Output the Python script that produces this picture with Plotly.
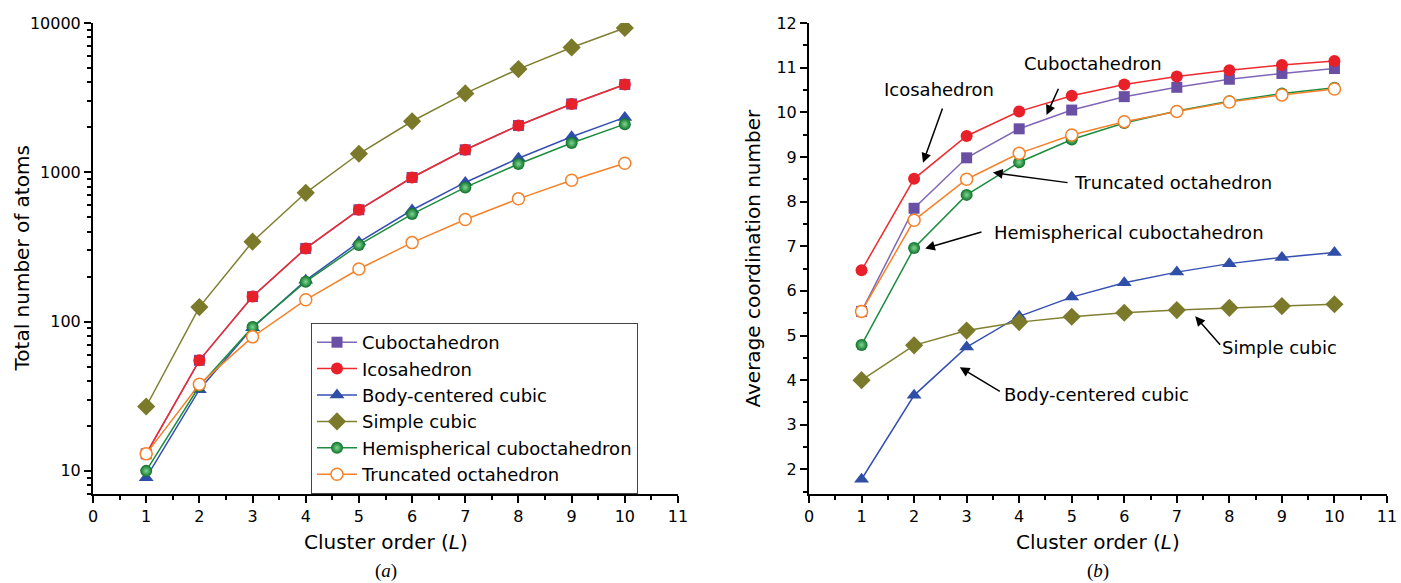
import plotly.graph_objects as go
import math

L = [1, 2, 3, 4, 5, 6, 7, 8, 9, 10]

# (a) total number of atoms
n_cubo = [13, 55, 147, 309, 561, 923, 1415, 2057, 2869, 3871]
n_icosa = [13, 55, 147, 309, 561, 923, 1415, 2057, 2869, 3871]
n_bcc = [9, 35, 91, 189, 341, 559, 855, 1241, 1729, 2331]
n_sc = [27, 125, 343, 729, 1331, 2197, 3375, 4913, 6859, 9261]
n_hemi = [10, 37, 92, 185, 326, 525, 792, 1137, 1570, 2101]
n_to = [13, 38, 79, 140, 225, 338, 483, 664, 885, 1150]

# (b) average coordination number
c_cubo = [5.54, 7.85, 8.98, 9.63, 10.05, 10.35, 10.56, 10.74, 10.87, 10.98]
c_icosa = [6.46, 8.51, 9.47, 10.02, 10.37, 10.62, 10.80, 10.94, 11.06, 11.15]
c_bcc = [1.78, 3.66, 4.74, 5.43, 5.86, 6.18, 6.42, 6.61, 6.75, 6.86]
c_sc = [4.00, 4.78, 5.11, 5.30, 5.42, 5.51, 5.57, 5.62, 5.66, 5.70]
c_hemi = [4.79, 6.96, 8.15, 8.88, 9.39, 9.76, 10.03, 10.25, 10.42, 10.55]
c_to = [5.54, 7.58, 8.50, 9.08, 9.49, 9.79, 10.02, 10.23, 10.39, 10.52]

names = ["Cuboctahedron", "Icosahedron", "Body-centered cubic", "Simple cubic",
         "Hemispherical cuboctahedron", "Truncated octahedron"]
left_data = [n_cubo, n_icosa, n_bcc, n_sc, n_hemi, n_to]
right_data = [c_cubo, c_icosa, c_bcc, c_sc, c_hemi, c_to]

styles = [
    dict(line="#7f66b8", marker=dict(symbol="square", color="#6a50a5", size=11)),
    dict(line="#ee2a2f", marker=dict(symbol="circle", color="#e8202a", size=12)),
    dict(line="#3550b2", marker=dict(symbol="triangle-up", color="#2f4ea8", size=13)),
    dict(line="#7f7f30", marker=dict(symbol="diamond", color="#7a7a2a", size=14)),
    dict(line="#1c8c3e", marker=dict(symbol="circle", color="#0c7028", size=12,
                                      gradient=dict(type="radial", color="#7fd890"))),
    dict(line="#f5822a", marker=dict(symbol="circle", color="white", size=12,
                                      line=dict(color="#f5822a", width=1.5))),
]

FONT = "DejaVu Sans, sans-serif"
SERIF = "Liberation Serif, Times New Roman, serif"

fig = go.Figure()
for name, ys, st in zip(names, left_data, styles):
    fig.add_trace(go.Scatter(x=L, y=ys, name=name, mode="lines+markers",
                             line=dict(color=st["line"], width=1.5),
                             marker=st["marker"], xaxis="x", yaxis="y",
                             showlegend=True))
for name, ys, st in zip(names, right_data, styles):
    fig.add_trace(go.Scatter(x=L, y=ys, name=name, mode="lines+markers",
                             line=dict(color=st["line"], width=1.5),
                             marker=st["marker"], xaxis="x2", yaxis="y2",
                             showlegend=False))

W, H = 1401, 583
top_px, bot_px = 23, 494
ydom = [(H - bot_px) / H, (H - top_px) / H]

axis_common = dict(showline=True, linecolor="black", linewidth=2, ticks="outside",
                   ticklen=7, tickwidth=1.5, tickcolor="black", showgrid=False,
                   zeroline=False, mirror=False, automargin=False,
                   ticklabeloverflow="allow",
                   tickfont=dict(family=FONT, size=16, color="black"))
minor_lin = dict(ticks="outside", ticklen=4, dtick=0.5, tickcolor="black", tickwidth=1.5)

fig.update_layout(
    width=W, height=H,
    margin=dict(l=0, r=0, t=0, b=0, autoexpand=False),
    paper_bgcolor="white", plot_bgcolor="white",
    font=dict(family=FONT, color="black"),
    xaxis=dict(domain=[93 / W, 678 / W], range=[0, 11], dtick=1, anchor="y",
               minor=minor_lin, **axis_common),
    yaxis=dict(domain=ydom, type="log", range=[math.log10(7.0), 4], dtick=1,
               tickformat="d", anchor="x",
               minor=dict(ticks="outside", ticklen=4, dtick="D1", tickcolor="black", tickwidth=1.5),
               **axis_common),
    xaxis2=dict(domain=[809 / W, 1387 / W], range=[0, 11], dtick=1, anchor="y2",
                minor=minor_lin, **axis_common),
    yaxis2=dict(domain=ydom, range=[1.45, 12], dtick=1, anchor="x2",
                minor=minor_lin, **axis_common),
    legend=dict(x=311 / W, y=(H - 323) / H, xanchor="left", yanchor="top",
                bordercolor="#444", borderwidth=1, bgcolor="white",
                font=dict(family=FONT, size=18, color="black"),
                itemwidth=40, tracegroupgap=0),
)

ann = []
# axis titles
ann.append(dict(text="Total number of atoms", xref="paper", yref="y domain",
                x=21 / W, y=0.5, xanchor="center", yanchor="middle",
                showarrow=False, textangle=-90, font=dict(family=FONT, size=20)))
ann.append(dict(text="Average coordination number", xref="paper", yref="y2 domain",
                x=752 / W, y=0.5, xanchor="center", yanchor="middle",
                showarrow=False, textangle=-90, font=dict(family=FONT, size=20)))
for xr in ["x domain", "x2 domain"]:
    ann.append(dict(text="Cluster order (<i>L</i>)", xref=xr, yref="paper",
                    x=0.5, y=(H - 542) / H, xanchor="center", yanchor="middle",
                    showarrow=False, font=dict(family=FONT, size=20)))
ann.append(dict(text="(<i>a</i>)", xref="x domain", yref="paper",
                x=0.5, y=(H - 571) / H, xanchor="center", yanchor="middle",
                showarrow=False, font=dict(family=SERIF, size=19)))
ann.append(dict(text="(<i>b</i>)", xref="x2 domain", yref="paper",
                x=0.5, y=(H - 571) / H, xanchor="center", yanchor="middle",
                showarrow=False, font=dict(family=SERIF, size=19)))

# right panel labels: (text, text_x, text_y, tail_x, tail_y, head_x, head_y)
labels = [
    ("Icosahedron", 2.48, 10.50, 2.55, 10.12, 2.17, 8.87),
    ("Cuboctahedron", 5.40, 11.10, 4.76, 10.56, 4.52, 9.94),
    ("Truncated octahedron", 6.93, 8.42, 4.95, 8.42, 3.50, 8.65),
    ("Hemispherical cuboctahedron", 6.09, 7.30, 3.31, 7.33, 2.21, 6.95),
    ("Body-centered cubic", 5.48, 3.67, 3.66, 3.73, 2.87, 4.29),
    ("Simple cubic", 8.95, 4.74, 7.85, 4.76, 7.35, 5.43),
]
for t, tx, ty, ax_, ay_, hx, hy in labels:
    ann.append(dict(text=t, x=tx, y=ty, xref="x2", yref="y2", showarrow=False,
                    xanchor="center", yanchor="middle",
                    font=dict(family=FONT, size=18, color="black")))
    ann.append(dict(text="", x=hx, y=hy, xref="x2", yref="y2", ax=ax_, ay=ay_,
                    axref="x2", ayref="y2", showarrow=True, arrowhead=2,
                    arrowsize=1.3, arrowwidth=1.5, arrowcolor="black"))

fig.update_layout(annotations=ann)
fig.write_html("out.html", config={"displayModeBar": False},
               post_script="document.body.style.margin='0';document.body.style.overflow='hidden';")
